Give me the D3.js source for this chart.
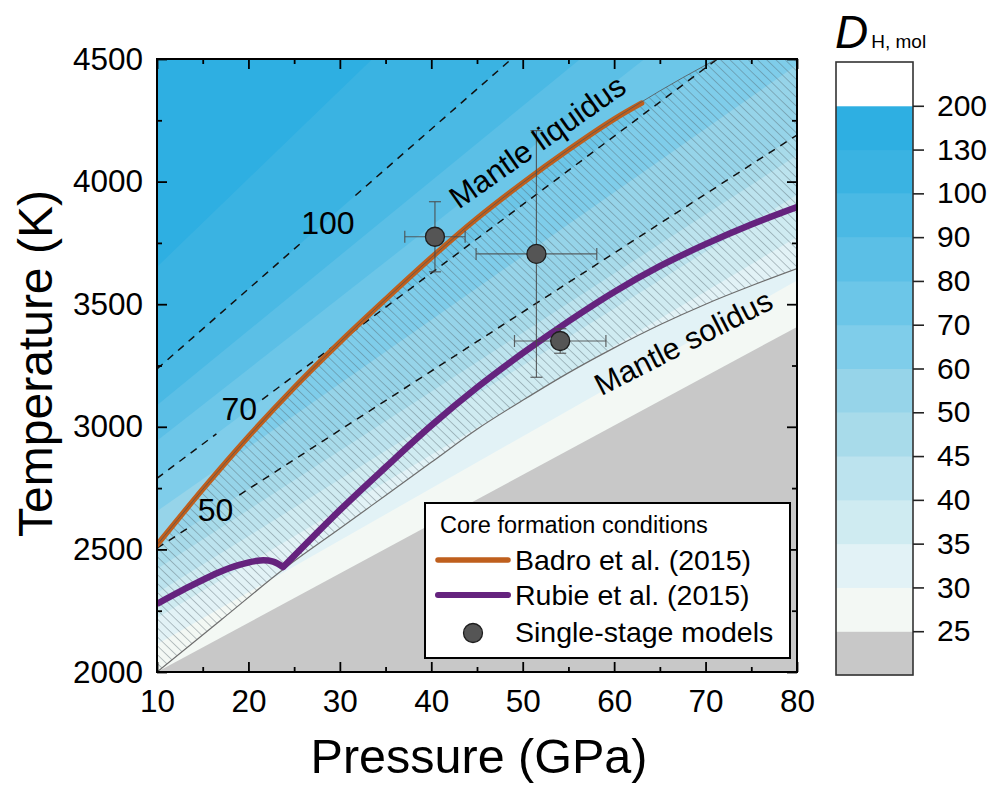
<!DOCTYPE html>
<html>
<head>
<meta charset="utf-8">
<script src="https://cdn.jsdelivr.net/npm/d3@7"></script>
<style>
  html, body { margin: 0; padding: 0; background: #fff; }
  svg { display: block; font-family: "Liberation Sans", Arial, Helvetica, sans-serif; }
</style>
</head>
<body>
<svg id="chart" width="992" height="785"></svg>
<script>
// ---- D_H,mol contour levels and the fill of each band (one more colour than levels) ----
const levels = [25, 30, 35, 40, 45, 50, 60, 70, 80, 90, 100, 130, 200];
const bandColors = ["#c8c8c8", "#f3f8f4", "#e2f2f6", "#cfebf1", "#bce3ee", "#a8dbea",
                    "#96d4e9", "#7fcdea", "#6cc6e8", "#5bbfe6", "#4ab9e4", "#3ab3e2",
                    "#2eafe2", "#ffffff"];
// every contour is close to a straight line in P–T space: its temperature (K) at 10 and at 80 GPa
const contourT10 = [2000, 2113, 2220, 2322, 2420, 2505, 2656, 2790, 2943, 3088, 3236, 3652, 4621];
const contourT80 = [3407, 3597, 3774, 3946, 4107, 4190, 4476, 4743, 4987, 5223, 5518, 6172, 7771];
// contours drawn dashed and labelled
const dashedLevels = [50, 70, 100];

// ---- mantle melting curves ----
const liquidusP = [10, 15, 20, 25, 30, 35, 40, 45, 50, 55, 60, 65, 70, 75];
const liquidusT = [2518, 2745, 2960, 3160, 3345, 3520, 3690, 3850, 3995, 4130, 4255, 4370, 4475, 4570];
const solidusP = [10, 17, 24, 30, 35, 40, 45, 50, 55, 60, 65, 70, 75, 80];
const solidusT = [2000, 2212, 2424, 2585, 2720, 2855, 2990, 3108, 3220, 3322, 3416, 3500, 3575, 3645];

// ---- core formation conditions ----
const badroP = [10, 15, 20, 25, 30, 35, 40, 45, 50, 55, 60, 63];
const badroT = [2518, 2745, 2960, 3160, 3345, 3520, 3690, 3850, 3995, 4130, 4255, 4320];
const rubieP = [10, 12.8, 16.6, 19, 21.3, 22.7, 23.8, 30, 35, 40, 45, 50, 55, 60, 65, 70, 75, 80];
const rubieT = [2278, 2334, 2404, 2437, 2455, 2450, 2428, 2660, 2835, 3005, 3160, 3300, 3430, 3550, 3655, 3745, 3825, 3896];
const rubieKinkIndex = 6;

// ---- single-stage models (value ± error) ----
const modelP = [40.4, 51.5, 54.1];
const modelPerr = [3.3, 6.6, 5.0];
const modelT = [3775, 3705, 3350];
const modelTerr = [143, 503, 50];

// ---- axis ticks ----
const xMajorTicks = [10, 20, 30, 40, 50, 60, 70, 80];
const xMinorTicks = [15, 25, 35, 45, 55, 65, 75];
const yMajorTicks = [2000, 2500, 3000, 3500, 4000, 4500];
const yMinorTicks = [2250, 2750, 3250, 3750, 4250];

// ================= drawing =================
const svg = d3.select("#chart");
const plot = { left: 157, right: 797, top: 59, bottom: 672 };
const x = d3.scaleLinear().domain([10, 80]).range([plot.left, plot.right]);
const y = d3.scaleLinear().domain([2000, 4500]).range([plot.bottom, plot.top]);
const font = '"Liberation Sans", Arial, Helvetica, sans-serif';

const defs = svg.append("defs");
defs.append("clipPath").attr("id", "plotClip")
  .append("rect")
  .attr("x", plot.left).attr("y", plot.top)
  .attr("width", plot.right - plot.left).attr("height", plot.bottom - plot.top);

const hatch = defs.append("pattern")
  .attr("id", "hatch")
  .attr("patternUnits", "userSpaceOnUse")
  .attr("width", 20).attr("height", 6.4)
  .attr("patternTransform", "rotate(44)");
hatch.append("line")
  .attr("x1", 0).attr("x2", 20).attr("y1", 3.2).attr("y2", 3.2)
  .attr("stroke", "#4f5f66").attr("stroke-width", 0.75).attr("stroke-opacity", 0.5);

const g = svg.append("g").attr("clip-path", "url(#plotClip)");

// straight contour of level index i, as [P, T] pairs
const contourPts = i => [[10, contourT10[i]], [80, contourT80[i]]];
const contourTAt = (i, P) => contourT10[i] + (contourT80[i] - contourT10[i]) * (P - 10) / 70;

// filled bands: paint from the highest level down, each area filling below its contour
g.append("rect")
  .attr("x", plot.left).attr("y", plot.top)
  .attr("width", plot.right - plot.left).attr("height", plot.bottom - plot.top)
  .attr("fill", bandColors[levels.length]);
const bandArea = d3.area()
  .x(d => x(d[0]))
  .y0(plot.bottom + 5)
  .y1(d => y(d[1]));
for (let i = levels.length - 1; i >= 0; i--) {
  g.append("path")
    .attr("d", bandArea(contourPts(i)))
    .attr("fill", bandColors[i]);
}

// hatched region between liquidus and solidus
const lineCR = d3.line().x(d => x(d[0])).y(d => y(d[1])).curve(d3.curveCatmullRom);
const liqPts = liquidusP.map((p, i) => [p, liquidusT[i]]);
const solPts = solidusP.map((p, i) => [p, solidusT[i]]);
const hatchPath = lineCR(liqPts) + "L" + x(80) + "," + (plot.top - 20) +
  "L" + lineCR(solPts.slice().reverse()).slice(1) + "Z";
g.append("path").attr("d", hatchPath).attr("fill", "url(#hatch)");

// dashed contours with an in-line label
const labelP = { 50: 16.4, 70: 19.0, 100: 28.7 };
const labelDT = { 50: 0, 70: 30, 100: -15 };
const labelGap = { 50: 2.6, 70: 2.5, 100: 3.0 };
dashedLevels.forEach(lv => {
  const i = levels.indexOf(lv);
  const pl = labelP[lv], gap = labelGap[lv];
  const segs = [[10, pl - gap], [pl + gap, 80]];
  segs.forEach(([p0, p1]) => {
    g.append("line")
      .attr("x1", x(p0)).attr("y1", y(contourTAt(i, p0)))
      .attr("x2", x(p1)).attr("y2", y(contourTAt(i, p1)))
      .attr("stroke", "#111").attr("stroke-width", 1.5)
      .attr("stroke-dasharray", "7.5,6.5");
  });
  g.append("text")
    .attr("x", x(pl)).attr("y", y(contourTAt(i, pl) + labelDT[lv]))
    .attr("text-anchor", "middle").attr("dominant-baseline", "central")
    .attr("font-size", 32).attr("fill", "#000")
    .text(lv);
});

// solidus
g.append("path").attr("d", lineCR(solPts))
  .attr("fill", "none").attr("stroke", "#6e6e6e").attr("stroke-width", 1.2);

// Rubie et al. (2015): two smooth pieces meeting at the kink on the solidus
const rubiePts = rubieP.map((p, i) => [p, rubieT[i]]);
const rubiePath = lineCR(rubiePts.slice(0, rubieKinkIndex + 1)) + "L" +
  lineCR(rubiePts.slice(rubieKinkIndex)).slice(1);
g.append("path").attr("d", rubiePath)
  .attr("fill", "none").attr("stroke", "#65237e").attr("stroke-width", 6.5)
  .attr("stroke-linejoin", "round");

// Badro et al. (2015) along the liquidus
const badroPts = badroP.map((p, i) => [p, badroT[i]]);
g.append("path").attr("d", lineCR(badroPts))
  .attr("fill", "none").attr("stroke", "#bf5f1d").attr("stroke-width", 5.5)
  .attr("stroke-linecap", "round");

// liquidus (thin line, also runs through the orange curve)
g.append("path").attr("d", lineCR(liqPts))
  .attr("fill", "none").attr("stroke", "#555").attr("stroke-width", 1)
  .attr("stroke-opacity", 0.8);

// error bars + model points
const cap = 6;
const eb = g.append("g").attr("stroke", "#4a4a4a").attr("stroke-width", 1.2).attr("stroke-opacity", 0.85);
modelP.forEach((p, i) => {
  const cx = x(p), cy = y(modelT[i]);
  const xl = x(p - modelPerr[i]), xr = x(p + modelPerr[i]);
  const yt = y(modelT[i] + modelTerr[i]), yb = y(modelT[i] - modelTerr[i]);
  eb.append("line").attr("x1", xl).attr("x2", xr).attr("y1", cy).attr("y2", cy);
  eb.append("line").attr("x1", xl).attr("x2", xl).attr("y1", cy - cap).attr("y2", cy + cap);
  eb.append("line").attr("x1", xr).attr("x2", xr).attr("y1", cy - cap).attr("y2", cy + cap);
  eb.append("line").attr("x1", cx).attr("x2", cx).attr("y1", yt).attr("y2", yb);
  eb.append("line").attr("x1", cx - cap).attr("x2", cx + cap).attr("y1", yt).attr("y2", yt);
  eb.append("line").attr("x1", cx - cap).attr("x2", cx + cap).attr("y1", yb).attr("y2", yb);
});
g.selectAll("circle.model")
  .data(modelP.map((p, i) => [p, modelT[i]]))
  .join("circle")
  .attr("class", "model")
  .attr("cx", d => x(d[0])).attr("cy", d => y(d[1]))
  .attr("r", 9.5)
  .attr("fill", "#555").attr("stroke", "#1e1e1e").attr("stroke-width", 1.3);

// curve names
g.append("text")
  .attr("transform", `translate(${x(43.0)},${y(3885)}) rotate(-35)`)
  .attr("font-size", 31).attr("fill", "#000")
  .text("Mantle liquidus");
g.append("text")
  .attr("transform", `translate(${x(58.6)},${y(3125)}) rotate(-27)`)
  .attr("font-size", 30.5).attr("fill", "#000")
  .text("Mantle solidus");

// ---- axes ----
const axesG = svg.append("g");
function styleAxis(sel) {
  sel.select(".domain").remove();
  sel.selectAll(".tick line").attr("stroke", "#000").attr("stroke-width", 1.8);
  sel.selectAll(".tick text").attr("font-family", font).attr("font-size", 31.5).attr("fill", "#000");
}
axesG.append("g").attr("transform", `translate(0,${plot.bottom})`)
  .call(d3.axisBottom(x).tickValues(xMajorTicks).tickSize(-10).tickPadding(18).tickFormat(d3.format("d")))
  .call(styleAxis);
axesG.append("g").attr("transform", `translate(0,${plot.bottom})`)
  .call(d3.axisBottom(x).tickValues(xMinorTicks).tickSize(-5).tickFormat(""))
  .call(styleAxis);
axesG.append("g").attr("transform", `translate(0,${plot.top})`)
  .call(d3.axisTop(x).tickValues(xMajorTicks).tickSize(-10).tickFormat(""))
  .call(styleAxis);
axesG.append("g").attr("transform", `translate(0,${plot.top})`)
  .call(d3.axisTop(x).tickValues(xMinorTicks).tickSize(-5).tickFormat(""))
  .call(styleAxis);
axesG.append("g").attr("transform", `translate(${plot.left},0)`)
  .call(d3.axisLeft(y).tickValues(yMajorTicks).tickSize(-10).tickPadding(14).tickFormat(d3.format("d")))
  .call(styleAxis);
axesG.append("g").attr("transform", `translate(${plot.left},0)`)
  .call(d3.axisLeft(y).tickValues(yMinorTicks).tickSize(-5).tickFormat(""))
  .call(styleAxis);
axesG.append("g").attr("transform", `translate(${plot.right},0)`)
  .call(d3.axisRight(y).tickValues(yMajorTicks).tickSize(-10).tickFormat(""))
  .call(styleAxis);
axesG.append("g").attr("transform", `translate(${plot.right},0)`)
  .call(d3.axisRight(y).tickValues(yMinorTicks).tickSize(-5).tickFormat(""))
  .call(styleAxis);
axesG.append("rect")
  .attr("x", plot.left).attr("y", plot.top)
  .attr("width", plot.right - plot.left).attr("height", plot.bottom - plot.top)
  .attr("fill", "none").attr("stroke", "#000").attr("stroke-width", 2);

// axis titles
svg.append("text")
  .attr("x", (plot.left + plot.right) / 2 + 2).attr("y", 773)
  .attr("text-anchor", "middle").attr("font-size", 48.5).attr("fill", "#000")
  .text("Pressure (GPa)");
svg.append("text")
  .attr("transform", `translate(52,${(plot.top + plot.bottom) / 2 - 2}) rotate(-90)`)
  .attr("text-anchor", "middle").attr("font-size", 48).attr("fill", "#000")
  .text("Temperature (K)");

// ---- legend ----
const lg = svg.append("g").attr("transform", "translate(425,503)");
lg.append("rect").attr("width", 365).attr("height", 155)
  .attr("fill", "#fff").attr("stroke", "#000").attr("stroke-width", 2);
lg.append("text").attr("x", 15).attr("y", 30).attr("font-size", 23.5).attr("fill", "#000")
  .text("Core formation conditions");
const legendItems = [
  { label: "Badro et al. (2015)", color: "#bf5f1d", w: 5.5 },
  { label: "Rubie et al. (2015)", color: "#65237e", w: 6 }
];
legendItems.forEach((it, i) => {
  const ly = 57 + i * 35;
  lg.append("line").attr("x1", 13).attr("x2", 83).attr("y1", ly).attr("y2", ly)
    .attr("stroke", it.color).attr("stroke-width", it.w).attr("stroke-linecap", "round");
  lg.append("text").attr("x", 90).attr("y", ly + 10).attr("font-size", 28.5).attr("fill", "#000")
    .text(it.label);
});
lg.append("circle").attr("cx", 48).attr("cy", 130).attr("r", 9.5)
  .attr("fill", "#555").attr("stroke", "#1e1e1e").attr("stroke-width", 1.3);
lg.append("text").attr("x", 90).attr("y", 139).attr("font-size", 28.5).attr("fill", "#000")
  .text("Single-stage models");

// ---- colour bar ----
const cbar = { left: 836, right: 913, top: 62, bottom: 675 };
const cb = d3.scaleLinear().domain([0, bandColors.length]).range([cbar.bottom, cbar.top]);
const cbG = svg.append("g");
cbG.selectAll("rect.band")
  .data(bandColors)
  .join("rect")
  .attr("class", "band")
  .attr("x", cbar.left).attr("width", cbar.right - cbar.left)
  .attr("y", (d, i) => cb(i + 1)).attr("height", (d, i) => cb(i) - cb(i + 1) + 0.5)
  .attr("fill", d => d);
cbG.append("rect")
  .attr("x", cbar.left).attr("y", cbar.top)
  .attr("width", cbar.right - cbar.left).attr("height", cbar.bottom - cbar.top)
  .attr("fill", "none").attr("stroke", "#333").attr("stroke-width", 1.6);
cbG.append("g").attr("transform", `translate(${cbar.right},0)`)
  .call(d3.axisRight(cb).tickValues(levels.map((l, i) => i + 1)).tickSize(11).tickPadding(13)
    .tickFormat((d, i) => levels[i]))
  .call(sel => {
    sel.select(".domain").remove();
    sel.selectAll(".tick line").attr("stroke", "#222").attr("stroke-width", 1.6);
    sel.selectAll(".tick text").attr("font-family", font).attr("font-size", 30).attr("fill", "#000");
  });
const cbTitle = svg.append("text").attr("x", 835).attr("y", 48).attr("fill", "#000");
cbTitle.append("tspan").attr("font-style", "italic").attr("font-size", 46).text("D");
cbTitle.append("tspan").attr("font-size", 19).attr("dx", 3).text("H, mol");
</script>
</body>
</html>
